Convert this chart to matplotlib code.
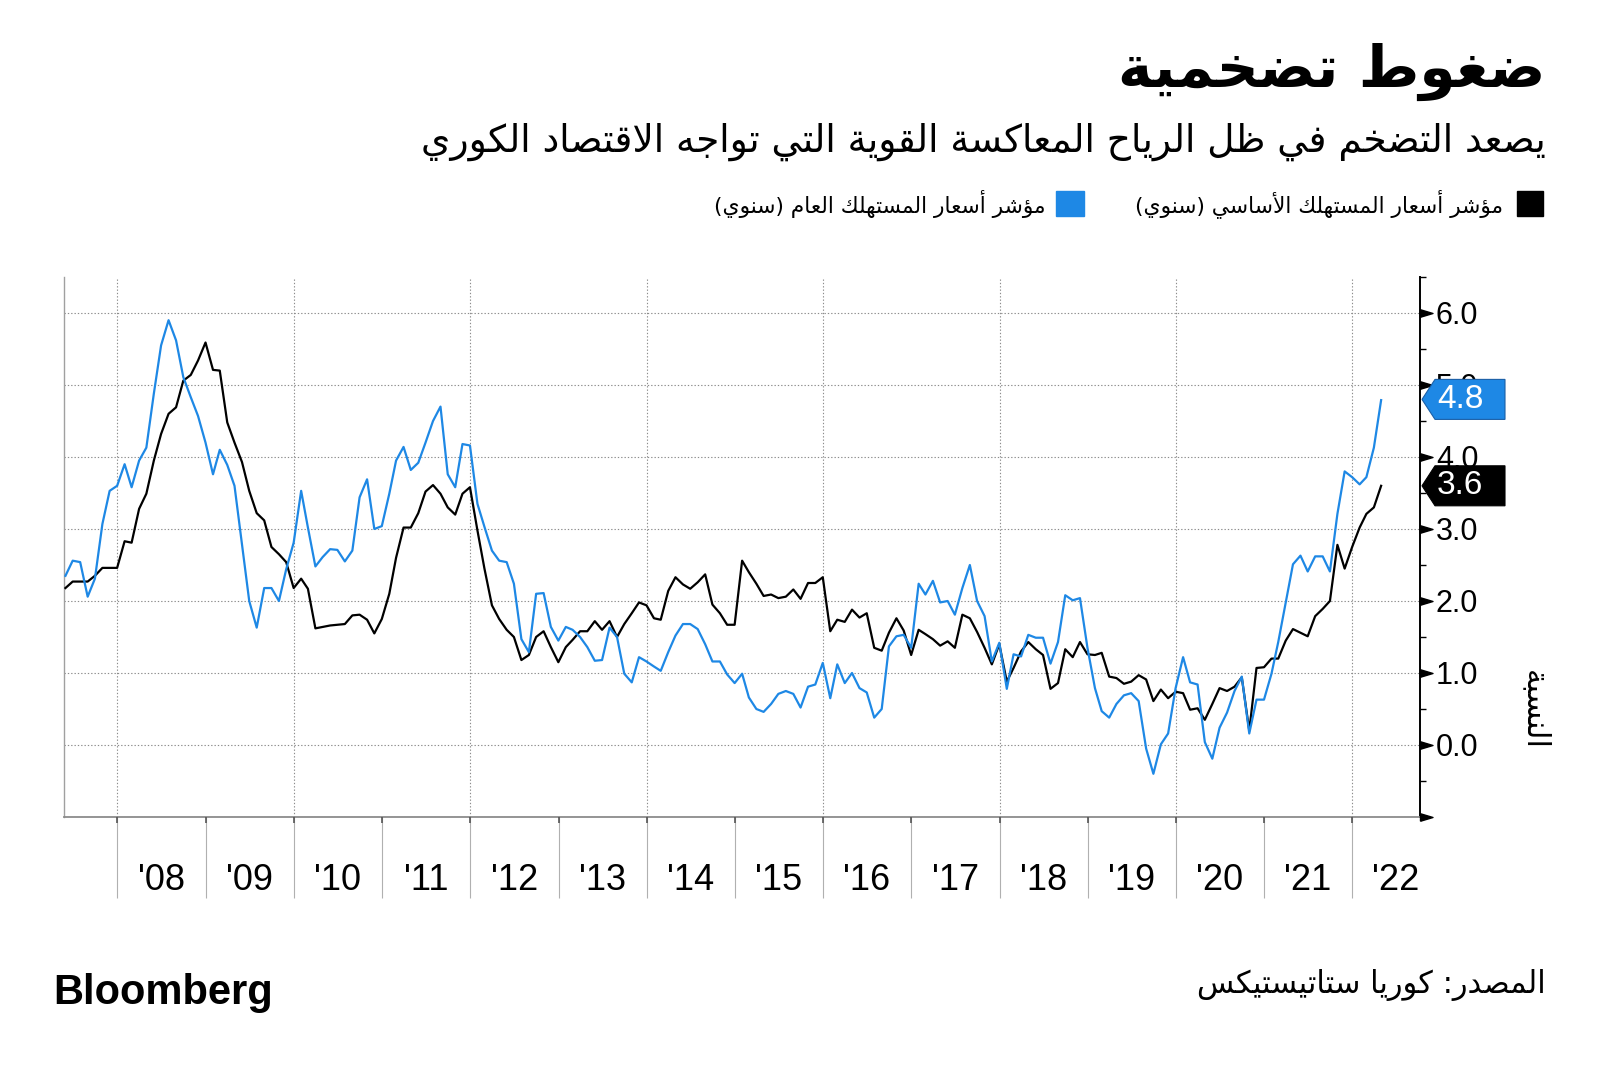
import numpy as np
import pandas as pd
import matplotlib
matplotlib.use('Agg')
import matplotlib.pyplot as plt
from matplotlib.patches import Rectangle, Polygon
from matplotlib.path import Path
from matplotlib.transforms import IdentityTransform

# --- Arabic shaping (matplotlib has no RTL / contextual forms) ---
LETTERS = 'ءآأؤإئابةتثجحخدذرزسشصضطظعغفقكلمنهوىي'
DUAL = set('ئبتثجحخسشصضطظعغفقكلمنهي')
FORMS = {}
cp = 0xFE80
for ch in LETTERS:
    n = 1 if ch == 'ء' else (4 if ch in DUAL else 2)
    f = [chr(cp + k) for k in range(n)] + [None] * (4 - n)
    FORMS[ch] = f
    cp += n
LAM_ALEF = {'آ': 0xFEF5, 'أ': 0xFEF7, 'إ': 0xFEF9, 'ا': 0xFEFB}


def ar(text):
    res = []
    i = 0
    while i < len(text):
        c = text[i]
        if c not in FORMS:
            res.append(c)
            i += 1
            continue
        prev = text[i - 1] if i > 0 else ''
        link_prev = prev in DUAL
        if c == 'ل' and i + 1 < len(text) and text[i + 1] in LAM_ALEF:
            res.append(chr(LAM_ALEF[text[i + 1]] + (1 if link_prev else 0)))
            i += 2
            continue
        nxt = text[i + 1] if i + 1 < len(text) else ''
        link_next = c in DUAL and nxt in FORMS
        f = FORMS[c]
        if link_prev and link_next:
            g = f[3]
        elif link_prev:
            g = f[1] or f[0]
        elif link_next:
            g = f[2]
        else:
            g = f[0]
        res.append(g)
        i += 1
    vis = ''.join(reversed(res))
    return vis.translate(str.maketrans('()', ')('))


# --- data: monthly, May 2007 - Apr 2022 ---
headline_cpi = [
    2.35, 2.56, 2.54, 2.06, 2.31, 3.07, 3.53, 3.60, 3.90, 3.58,
    3.95, 4.13, 4.88, 5.55, 5.90, 5.62, 5.11, 4.83, 4.57, 4.20,
    3.76, 4.10, 3.89, 3.60, 2.79, 2.00, 1.63, 2.18, 2.18, 2.00,
    2.44, 2.81, 3.53, 3.02, 2.48, 2.61, 2.72, 2.71, 2.55, 2.70,
    3.44, 3.69, 3.00, 3.04, 3.49, 3.95, 4.14, 3.82, 3.92, 4.20,
    4.50, 4.70, 3.76, 3.58, 4.18, 4.16, 3.35, 3.03, 2.70, 2.56,
    2.54, 2.24, 1.47, 1.29, 2.10, 2.11, 1.64, 1.45, 1.64, 1.60,
    1.50, 1.36, 1.17, 1.18, 1.63, 1.50, 0.99, 0.87, 1.22, 1.16,
    1.09, 1.03, 1.29, 1.52, 1.68, 1.68, 1.61, 1.40, 1.16, 1.16,
    0.98, 0.86, 0.99, 0.66, 0.50, 0.46, 0.57, 0.71, 0.75, 0.71,
    0.52, 0.81, 0.84, 1.14, 0.65, 1.12, 0.86, 1.00, 0.79, 0.73,
    0.38, 0.50, 1.37, 1.51, 1.53, 1.35, 2.24, 2.09, 2.28, 1.98,
    2.00, 1.81, 2.18, 2.50, 2.00, 1.79, 1.16, 1.42, 0.78, 1.26,
    1.23, 1.53, 1.49, 1.49, 1.13, 1.43, 2.08, 2.01, 2.04, 1.35,
    0.79, 0.47, 0.38, 0.57, 0.69, 0.72, 0.61, -0.05, -0.40, 0.01,
    0.16, 0.79, 1.22, 0.87, 0.84, 0.04, -0.19, 0.24, 0.45, 0.75,
    0.95, 0.16, 0.63, 0.63, 0.99, 1.43, 1.98, 2.51, 2.63, 2.41,
    2.62, 2.62, 2.41, 3.21, 3.80, 3.72, 3.62, 3.72, 4.13, 4.79,
]
core_cpi = [
    2.18, 2.27, 2.27, 2.27, 2.35, 2.46, 2.46, 2.46, 2.83, 2.81,
    3.28, 3.49, 3.95, 4.32, 4.60, 4.69, 5.06, 5.14, 5.34, 5.59,
    5.21, 5.20, 4.48, 4.20, 3.93, 3.53, 3.22, 3.12, 2.75, 2.65,
    2.54, 2.18, 2.31, 2.17, 1.62, 1.64, 1.66, 1.67, 1.68, 1.80,
    1.81, 1.74, 1.55, 1.75, 2.10, 2.60, 3.02, 3.02, 3.22, 3.52,
    3.61, 3.49, 3.30, 3.20, 3.49, 3.58, 2.98, 2.45, 1.94, 1.75,
    1.60, 1.50, 1.18, 1.25, 1.50, 1.58, 1.36, 1.15, 1.36, 1.46,
    1.58, 1.58, 1.72, 1.60, 1.72, 1.50, 1.68, 1.83, 1.98, 1.94,
    1.76, 1.74, 2.14, 2.33, 2.23, 2.17, 2.26, 2.37, 1.95, 1.83,
    1.67, 1.67, 2.56, 2.40, 2.24, 2.07, 2.09, 2.04, 2.06, 2.16,
    2.03, 2.25, 2.25, 2.33, 1.58, 1.74, 1.71, 1.88, 1.77, 1.83,
    1.35, 1.31, 1.56, 1.76, 1.59, 1.25, 1.60, 1.54, 1.47, 1.38,
    1.44, 1.35, 1.81, 1.76, 1.57, 1.35, 1.12, 1.40, 0.88, 1.07,
    1.30, 1.43, 1.33, 1.25, 0.78, 0.86, 1.33, 1.22, 1.43, 1.26,
    1.25, 1.28, 0.95, 0.93, 0.85, 0.88, 0.97, 0.91, 0.61, 0.77,
    0.65, 0.74, 0.72, 0.49, 0.51, 0.35, 0.57, 0.79, 0.75, 0.81,
    0.94, 0.20, 1.07, 1.08, 1.20, 1.20, 1.45, 1.61, 1.56, 1.51,
    1.79, 1.89, 2.00, 2.78, 2.45, 2.75, 3.02, 3.21, 3.30, 3.60,
]
dates = pd.date_range('2007-05-31', periods=len(core_cpi), freq='ME')
years = list(range(2008, 2023))
year_labels = ["'%02d" % (y % 100) for y in years]
y_ticks = np.arange(-1, 7)

title = 'ضغوط تضخمية'
subtitle = 'يصعد التضخم في ظل الرياح المعاكسة القوية التي تواجه الاقتصاد الكوري'
legend_core = 'مؤشر أسعار المستهلك الأساسي (سنوي)'
legend_headline = 'مؤشر أسعار المستهلك العام (سنوي)'
y_label = 'النسبة'
source = 'المصدر: كوريا ستاتيستيكس'

BLUE = '#1e88e5'
AR = ['DejaVu Sans']
NUM = ['Liberation Sans', 'DejaVu Sans']

W, H = 1600, 1073
fig = plt.figure(figsize=(W / 100, H / 100), dpi=100)
ax = fig.add_axes([64 / W, 1 - 817 / H, (1420 - 64) / W, (817 - 277) / H])

ax.plot(dates, core_cpi, color='black', lw=1.6, zorder=3)
ax.plot(dates, headline_cpi, color=BLUE, lw=1.6, zorder=4)

ax.set_xlim(pd.Timestamp('2007-05-25'), pd.Timestamp('2022-10-08'))
ax.set_ylim(-1, 6.5)

# grid
for y in y_ticks:
    ax.axhline(y, color='#8c8c8c', lw=0.8, ls=(0, (1.2, 1.8)), zorder=1)
for y in years[::2]:
    ax.axvline(pd.Timestamp(f'{y}-01-01'), color='#8c8c8c', lw=0.8,
               ls=(0, (1.2, 1.8)), zorder=1)

# spines
ax.spines['top'].set_visible(False)
ax.spines['left'].set_color('#a0a0a0')
ax.spines['left'].set_linewidth(1.0)
ax.spines['bottom'].set_color('#8c8c8c')
ax.spines['bottom'].set_linewidth(1.3)
ax.spines['right'].set_color('black')
ax.spines['right'].set_linewidth(1.4)

# x axis: year separators + centered labels
bounds = [pd.Timestamp(f'{y}-01-01') for y in years]
mids = [pd.Timestamp(f'{y}-07-01') for y in years]
ax.set_xticks(bounds)
ax.set_xticklabels([])
ax.set_xticks(mids, minor=True)
ax.set_xticklabels(year_labels, minor=True, fontfamily=NUM)
ax.tick_params(axis='x', which='major', length=58, width=0.8,
               color='#b0b0b0', direction='out')
ax.tick_params(axis='x', which='minor', length=0, pad=33, labelsize=26)
ax.plot(bounds, np.zeros(len(bounds)), ls='none', marker=3, ms=4,
        mew=1.2, color='#555555', transform=ax.get_xaxis_transform(),
        clip_on=False, zorder=6)

# y axis on the right
ax.yaxis.tick_right()
ax.set_yticks(y_ticks)
ax.set_yticklabels(['' if v < 0 else f'{v:.1f}' for v in y_ticks],
                   fontfamily=NUM)
ax.set_yticks(np.arange(-0.5, 7, 1.0), minor=True)
ax.tick_params(axis='y', which='major', length=0, pad=11.5, labelsize=22)
ax.tick_params(axis='y', which='minor', length=4.5, width=1.0,
               color='black', direction='out')
tri = Path([(0, -0.3), (0, 0.3), (1, 0), (0, -0.3)])
ax.plot(np.ones(len(y_ticks)), y_ticks, ls='none', marker=tri, ms=18,
        color='black', transform=ax.get_yaxis_transform(), clip_on=False,
        zorder=6)


# last-value tags
def value_tag(val, face, edge):
    yc = ax.transData.transform((0, val))[1]
    pts = [(1422, yc), (1435, yc + 20), (1505, yc + 20),
           (1505, yc - 20), (1435, yc - 20)]
    fig.add_artist(Polygon(pts, closed=True, fc=face, ec=edge, lw=0.8,
                           transform=IdentityTransform(), clip_on=False,
                           zorder=7))
    fig.text(1460 / W, yc / H, f'{val:.1f}', color='white', ha='center',
             va='center', fontsize=24, fontfamily=NUM, zorder=8)


value_tag(round(headline_cpi[-1], 1), BLUE, '#1b5fa6')
value_tag(round(core_cpi[-1], 1), 'black', 'black')

# titles
fig.text(1546 / W, 1 - 72 / H, ar(title), ha='right', va='center',
         fontsize=42, fontweight='bold', fontfamily=AR)
fig.text(1546 / W, 1 - 142 / H, ar(subtitle), ha='right', va='center',
         fontsize=27, fontfamily=AR)

# legend
fig.add_artist(Rectangle((1517 / W, 1 - 216 / H), 26 / W, 25 / H,
                         transform=fig.transFigure, color='black'))
fig.text(1503 / W, 1 - 204 / H, ar(legend_core), ha='right', va='center',
         fontsize=15.7, fontfamily=AR)
fig.add_artist(Rectangle((1056 / W, 1 - 216 / H), 28 / W, 25 / H,
                         transform=fig.transFigure, color=BLUE))
fig.text(1045 / W, 1 - 204 / H, ar(legend_headline), ha='right',
         va='center', fontsize=15.7, fontfamily=AR)

# axis title
fig.text(1534 / W, 1 - 710 / H, ar(y_label), rotation=-90, ha='center',
         va='center', fontsize=22, fontfamily=AR)

# footer
fig.text(1546 / W, 1 - 985 / H, ar(source), ha='right', va='center',
         fontsize=22, fontfamily=AR)
fig.text(53 / W, 1 - 993 / H, 'Bloomberg', ha='left', va='center',
         fontsize=30, fontweight='bold', fontfamily=NUM)

fig.savefig('out.png', dpi=100)
